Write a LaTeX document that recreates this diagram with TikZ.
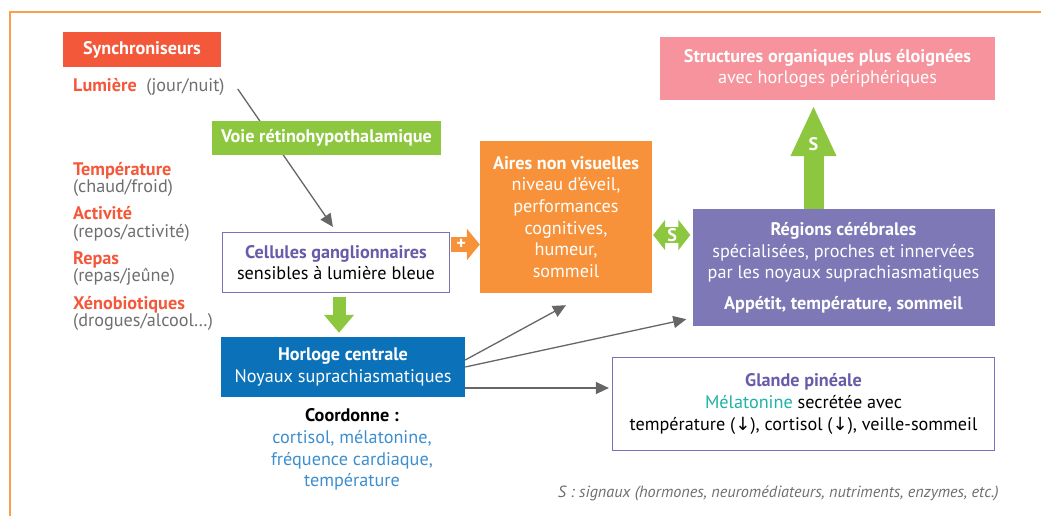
\documentclass[tikz,border=0pt]{standalone}
\usepackage{fontspec}
\setmainfont{PT Sans}
\newfontfamily\symfont{DejaVu Sans}
\usepackage{xcolor}
\usetikzlibrary{arrows.meta,positioning,calc}
\pgfdeclarelayer{bg}
\pgfsetlayers{bg,main}
\definecolor{synred}{HTML}{F4583A}
\definecolor{txtgray}{HTML}{6D6E71}
\definecolor{sgreen}{HTML}{8DC63F}
\definecolor{cpurple}{HTML}{6A5BAA}
\definecolor{bpurple}{HTML}{7B70BA}
\definecolor{hblue}{HTML}{0B72B9}
\definecolor{lblue}{HTML}{3D8ECE}
\definecolor{aorange}{HTML}{F7923A}
\definecolor{rpurple}{HTML}{7E78B6}
\definecolor{spink}{HTML}{F6939C}
\definecolor{teal}{HTML}{1DB3A6}
\definecolor{agray}{HTML}{666666}
\definecolor{framec}{HTML}{F8A04A}
\newcommand{\txt}{\fontsize{18.2}{21.7}\selectfont\lineskiplimit=-10pt}
\newcommand{\lst}{\fontsize{18.2}{17.5}\selectfont\lineskiplimit=-10pt}

\begin{document}
\begin{tikzpicture}[x = 1pt, y = -1pt,
  fbox/.style = {inner sep=0pt, align=center, font=\txt},
  item/.style = {anchor=west, inner sep=0pt, align=left, font=\lst, text=txtgray},
  garrow/.style = {agray, line width=1.3pt, -{Triangle[width=12pt,length=13pt]}},
  sig/.style = {inner sep=0pt, text=white, font=\bfseries\txt}]
\useasboundingbox (0,0) rectangle (1041,516);
\draw[framec, line width=2pt] (1041,12) -- (10,12) -- (10,516);

% synchroniseurs
\node[fbox, fill=synred, text=white, minimum width=158pt, minimum height=35pt, font=\bfseries\txt] (sync) at (142,49.5) {Synchroniseurs};
\node[item] (lum) at (73,87) {\textcolor{synred}{\bfseries Lumière}\ \ (jour/nuit)};
\node[item] (temp) at (73,179.5) {\textcolor{synred}{\bfseries Température}\\(chaud/froid)};
\node[item] (act) at (73,224) {\textcolor{synred}{\bfseries Activité}\\(repos/activité)};
\node[item] (rep) at (73,268.5) {\textcolor{synred}{\bfseries Repas}\\(repas/jeûne)};
\node[item] (xen) at (73,313.5) {\textcolor{synred}{\bfseries Xénobiotiques}\\(drogues/alcool…)};

% boxes
\node[fbox, fill=sgreen, text=white, minimum width=229pt, minimum height=34pt, font=\bfseries\txt] (voie) at (326.5,138) {Voie rétinohypothalamique};
\node[fbox, draw=bpurple, line width=1.2pt, fill=white, minimum width=227pt, minimum height=60pt] (cel) at (336,262.5)
  {\textcolor{cpurple}{\bfseries Cellules ganglionnaires}\\sensibles à lumière bleue};
\node[fbox, fill=hblue, text=white, minimum width=244pt, minimum height=60pt] (hor) at (343,367)
  {\textbf{Horloge centrale}\\Noyaux suprachiasmatiques};
\node[fbox] (coord) at (352,449.5)
  {\textbf{Coordonne :}\\\textcolor{lblue}{cortisol, mélatonine,}\\\textcolor{lblue}{fréquence cardiaque,}\\\textcolor{lblue}{température}};
\node[fbox, fill=aorange, text=white, minimum width=172pt, minimum height=152pt] (aires) at (566,217)
  {\textbf{Aires non visuelles}\\niveau d’éveil,\\performances\\cognitives,\\humeur,\\sommeil};
\node[fbox, fill=rpurple, text=white, minimum width=302pt, minimum height=117pt] (reg) at (843.5,267.5)
  {\textbf{Régions cérébrales}\\spécialisées, proches et innervées\\par les noyaux suprachiasmatiques\\[8.5pt]\textbf{Appétit, température, sommeil}};
\node[fbox, fill=spink, text=white, minimum width=335pt, minimum height=63pt] (str) at (827.5,68.5)
  {\textbf{Structures organiques plus éloignées}\\avec horloges périphériques};
\node[fbox, draw=bpurple, line width=1.2pt, fill=white, minimum width=382pt, minimum height=93pt] (gla) at (803.5,404)
  {\textcolor{cpurple}{\bfseries Glande pinéale}\\\textcolor{teal}{Mélatonine} secrétée avec\\température ({\symfont ↓}), cortisol ({\symfont ↓}), veille-sommeil};
\node[anchor=east, inner sep=0pt, text=txtgray, font=\itshape\fontsize{16.2}{18}\selectfont] (note) at (999,493)
  {S : signaux (hormones, neuromédiateurs, nutriments, enzymes, etc.)};

% thin arrows
\begin{pgfonlayer}{bg}
\draw[garrow] ($(lum.east)+(13,2)$) -- ($(cel.north west)+(111,-5)$);
\end{pgfonlayer}
\draw[garrow] ($(hor.east)+(0,-7)$) -- ($(aires.south)+(0,12)$);
\draw[garrow] (hor.east) -- ($(reg.south west)+(-6,-7)$);
\draw[garrow, shorten >=3pt] ($(hor.east)+(0,21)$) coordinate (h3) -- (h3 -| gla.west);

% block arrows
\draw[sgreen, line width=13pt, -{Triangle[width=29pt,length=18pt]}, shorten >=4pt]
  ($(cel.south)+(3,4)$) coordinate (d0) -- (d0 |- hor.north);
\draw[aorange, line width=15pt, -{Triangle[width=31pt,length=13pt]}]
  ($(cel.east)+(1,-18)$) coordinate (p0) -- node[pos=.35, sig] (plus) {+} (p0 -| aires.west);
\draw[sgreen, line width=16pt, {Triangle[width=30pt,length=12pt]}-{Triangle[width=30pt,length=12pt]}, shorten <=1pt, shorten >=2pt]
  ($(aires.east)+(0,18)$) coordinate (s0) -- node[sig] (sa) {S} (s0 -| reg.west);
\draw[sgreen, line width=20pt, -{Triangle[width=42pt,length=51pt]}, shorten >=5pt]
  ($(reg.north)+(-30,0)$) coordinate (u0) -- node[pos=.6, sig] (sb) {S} (u0 |- str.south);
\end{tikzpicture}
\end{document}
